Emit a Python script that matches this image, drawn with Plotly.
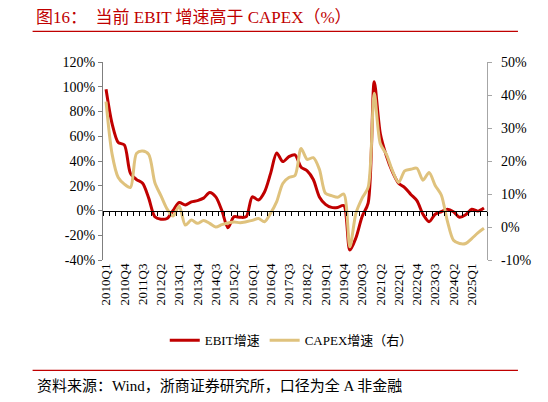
import plotly.graph_objects as go

# ---------------- data ----------------
years = list(range(2010, 2026))
quarters = [f"{y}Q{q}" for y in years for q in range(1, 5)][:63]   # 2010Q1 .. 2025Q3

ebit_growth = [98, 70, 55, 53, 30, 25, 22, 10, -5, -7,
               -6.5, 0, 6.5, 4.5, 7, 8, 10, 14.5, 11, 0,
               -14, -5, -5.5, -5, 11, 8.5, 15, 30, 46.5, 39.5,
               43.5, 45, 35, 32, 25, 11, 5, 2.5, 2.5, 4,
               -32, -22, -5, 6, 104, 62, 44, 31, 22, 18.5,
               13, 8, -3, -9, -3, -1, 1, -1, -5.5, -3.5,
               1, -0.5, 2]

capex_growth = [38, 22, 15, 13, 12, 22.3, 23, 22, 13.5, 9.5,
                5.5, 3.3, 6.4, 0.6, 2.1, 1.1, 2, 1.1, 0, 0.7,
                1.2, 1.5, 1.3, 1.6, 2, 2.6, 1.6, 4.2, 7.7, 13.2,
                15, 15.6, 23.8, 20.5, 21, 17.5, 10.2, 9.5, 9, 10,
                -6, 4.2, 8.7, 12, 40.5, 25.2, 22, 17, 13.5, 17,
                17.5, 17.8, 14.2, 16.5, 12.6, 9.7, 1.8, -4, -5, -5,
                -3.5, -1.8, -0.4]

left_ticks = [-40, -20, 0, 20, 40, 60, 80, 100, 120]
right_ticks = [-10, 0, 10, 20, 30, 40, 50]

title_text = "图16：  当前 EBIT 增速高于 CAPEX（%）"
source_text = "资料来源：Wind，浙商证券研究所，口径为全 A 非金融"
ebit_name = "EBIT增速"
capex_name = "CAPEX增速（右）"

# ---------------- layout geometry (pixels in the 548x402 window) ----------------
OFF = 8                      # page body margin of the html page
W, H = 548 - OFF, 402 - OFF
PL, PR, PT, PB = 102.5 - OFF, 487 - OFF, 61.7 - OFF, 259.7 - OFF   # plot area edges


def px_x(px):
    return (px - OFF - PL) / (PR - PL)


def px_y(py):
    return (PB - (py - OFF)) / (PB - PT)


FONT = "Liberation Serif, 'Times New Roman', 'Noto Sans CJK SC', serif"
RED = "#C00000"
TAN = "#DFC27D"

idx = list(range(len(quarters)))
tick_idx = [i for i in idx[::3] if i <= 60]

fig = go.Figure()
fig.add_trace(go.Scatter(x=idx, y=ebit_growth, name=ebit_name, mode="lines",
                         line=dict(color=RED, width=3, shape="spline", smoothing=0.8),
                         xaxis="x", yaxis="y", hoverinfo="skip"))
fig.add_trace(go.Scatter(x=idx, y=capex_growth, name=capex_name, mode="lines",
                         line=dict(color=TAN, width=3, shape="spline", smoothing=0.8),
                         xaxis="x", yaxis="y2", hoverinfo="skip"))
# invisible trace to hold the zero-crossing category axis
fig.add_trace(go.Scatter(x=[0], y=[None], xaxis="x2", yaxis="y", showlegend=False,
                         hoverinfo="skip", mode="lines"))

zero_pos = (0 - left_ticks[0]) / (left_ticks[-1] - left_ticks[0])

fig.update_layout(
    width=W, height=H,
    margin=dict(l=PL, r=W - PR, t=PT, b=H - PB, autoexpand=False),
    paper_bgcolor="white", plot_bgcolor="white",
    font=dict(family=FONT, size=13, color="#000000"),
    showlegend=True,
    legend=dict(orientation="h", x=px_x(291), xanchor="center", y=px_y(340), yanchor="middle",
                font=dict(size=13, family=FONT), itemwidth=30, traceorder="normal",
                bgcolor="rgba(0,0,0,0)"),
    xaxis=dict(range=[-0.5, len(quarters) - 0.5], tickmode="array",
               tickvals=tick_idx, ticktext=[quarters[i] for i in tick_idx],
               tickangle=-90, tickfont=dict(size=13, family=FONT),
               showline=False, ticks="", showgrid=False, zeroline=False, anchor="y"),
    xaxis2=dict(range=[-0.5, len(quarters) - 0.5], overlaying="x", anchor="free",
                position=zero_pos, side="bottom", tickmode="array",
                tickvals=[k - 0.5 for k in range(len(quarters) + 1)],
                showticklabels=False, ticks="outside", ticklen=4, tickwidth=1,
                tickcolor="#000000", showline=True, linecolor="#000000", linewidth=1.2,
                showgrid=False, zeroline=False),
    yaxis=dict(range=[left_ticks[0], left_ticks[-1]], tickmode="array",
               tickvals=left_ticks, ticktext=[f"{v}%" for v in left_ticks],
               showline=True, linecolor="#7F7F7F", linewidth=1.2,
               ticks="outside", ticklen=4, tickcolor="#7F7F7F",
               showgrid=False, zeroline=False, tickfont=dict(size=14, family=FONT)),
    yaxis2=dict(range=[right_ticks[0], right_ticks[-1]], tickmode="array",
                tickvals=right_ticks, ticktext=[f"{v}%" for v in right_ticks],
                overlaying="y", side="right", anchor="x",
                showline=True, linecolor="#A6A6A6", linewidth=1.2,
                ticks="outside", ticklen=4, tickcolor="#A6A6A6",
                ticklabelstandoff=6,
                showgrid=False, zeroline=False, tickfont=dict(size=14, family=FONT)),
    annotations=[
        dict(text=title_text, xref="paper", yref="paper", x=px_x(33), y=px_y(17),
             xanchor="left", yanchor="middle", showarrow=False,
             font=dict(size=17, color=RED, family=FONT)),
        dict(text=source_text, xref="paper", yref="paper", x=px_x(34), y=px_y(385),
             xanchor="left", yanchor="middle", showarrow=False,
             font=dict(size=15, color="#000000", family=FONT)),
    ],
    shapes=[
        dict(type="line", xref="paper", yref="paper", x0=px_x(32), x1=px_x(518),
             y0=px_y(31), y1=px_y(31), line=dict(color=RED, width=1.2)),
        dict(type="line", xref="paper", yref="paper", x0=px_x(32), x1=px_x(518),
             y0=px_y(370), y1=px_y(370), line=dict(color=RED, width=1.2)),
    ],
)

fig.write_html("out.html")
